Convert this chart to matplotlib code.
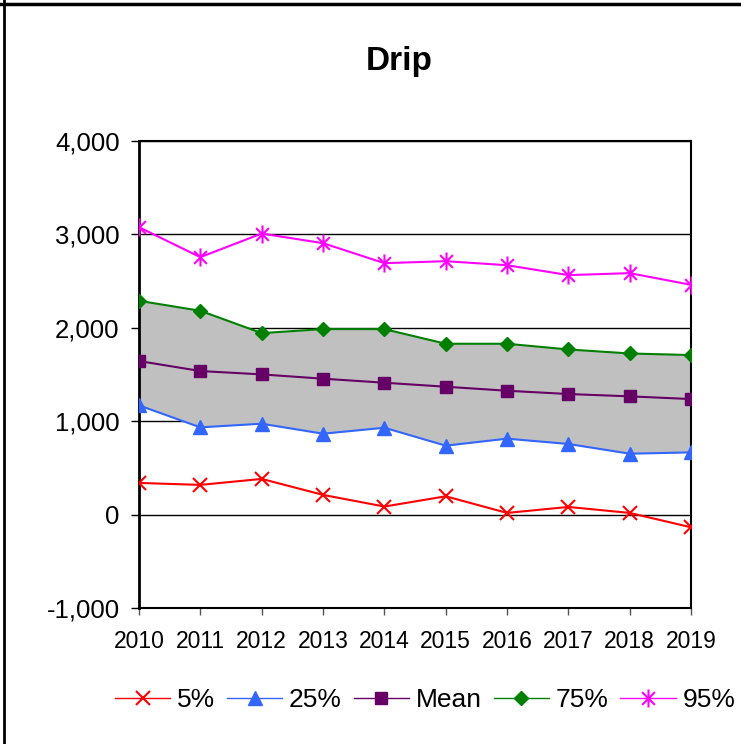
import numpy as np
import matplotlib
matplotlib.use("Agg")
import matplotlib.pyplot as plt
from matplotlib.path import Path
from matplotlib.lines import Line2D
from matplotlib.ticker import FuncFormatter

plt.rcParams['font.family'] = ['Liberation Sans', 'DejaVu Sans']

years = [2010, 2011, 2012, 2013, 2014, 2015, 2016, 2017, 2018, 2019]
p5 = [339, 318, 382, 211, 86, 196, 18, 82, 18, -136]
p25 = [1169, 934, 973, 866, 930, 738, 813, 756, 652, 666]
mean = [1644, 1537, 1501, 1455, 1412, 1369, 1326, 1291, 1266, 1237]
p75 = [2289, 2182, 1943, 1986, 1986, 1829, 1829, 1768, 1725, 1708]
p95 = [3077, 2756, 3009, 2906, 2692, 2713, 2670, 2564, 2585, 2460]

# asterisk marker: vertical stroke plus both diagonals
d = 0.7071
star = Path([(0, -1), (0, 1), (-d, -d), (d, d), (-d, d), (d, -d)],
            [Path.MOVETO, Path.LINETO, Path.MOVETO, Path.LINETO, Path.MOVETO, Path.LINETO])

fig = plt.figure(figsize=(7.41, 7.44), dpi=100)
ax = fig.add_axes([0.1876, 0.1828, 0.745, 0.6277])

ax.fill_between(years, p25, p75, color='#C0C0C0', zorder=2, linewidth=0)
ax.plot(years, p5, color='#FF0000', lw=1.5, marker='x', ms=10, mew=1.5, label='5%', zorder=3)
ax.plot(years, p25, color='#3366FF', lw=1.5, marker='^', ms=10, label='25%', zorder=3)
ax.plot(years, mean, color='#660066', lw=1.5, marker='s', ms=8, label='Mean', zorder=3)
ax.plot(years, p75, color='#008000', lw=1.5, marker='D', ms=7, label='75%', zorder=3)
ax.plot(years, p95, color='#FF00FF', lw=1.5, marker=star, ms=13, mew=1.5, label='95%', zorder=3)

ax.set_xlim(2010, 2019)
ax.set_ylim(-1000, 4000)
ax.set_xticks(years)
ax.set_yticks(np.arange(-1000, 4001, 1000))
ax.yaxis.set_major_formatter(FuncFormatter(lambda v, p: f'{int(v):,}'))
ax.grid(axis='y', color='black', lw=1, zorder=1)
ax.set_axisbelow(True)
ax.tick_params(axis='y', labelsize=18.5, length=6, width=1, direction='out', pad=8)
ax.tick_params(axis='x', labelsize=16.5, length=5, width=1, color='#555555', direction='out', pad=11)
for s in ax.spines.values():
    s.set_color('black')
    s.set_linewidth(1.5)
ax.spines['left'].set_linewidth(2)

fig.text(399 / 741, 1 - 70 / 744, 'Drip', ha='center', va='baseline',
         fontsize=24, fontweight='bold')

leg = fig.legend(loc='center', bbox_to_anchor=(425 / 741, 1 - 700 / 744), ncol=5,
                 frameon=False, fontsize=19, handlelength=2.1, handletextpad=0.25,
                 columnspacing=0.45)
for h in leg.legend_handles:
    h.set_linewidth(1)

# outer chart frame
fig.add_artist(Line2D([0, 1], [1 - 3.5 / 744] * 2, transform=fig.transFigure,
                      color='black', lw=2.5))
fig.add_artist(Line2D([3.5 / 741] * 2, [0, 1], transform=fig.transFigure,
                      color='black', lw=2))

fig.savefig('out.png', dpi=100)
